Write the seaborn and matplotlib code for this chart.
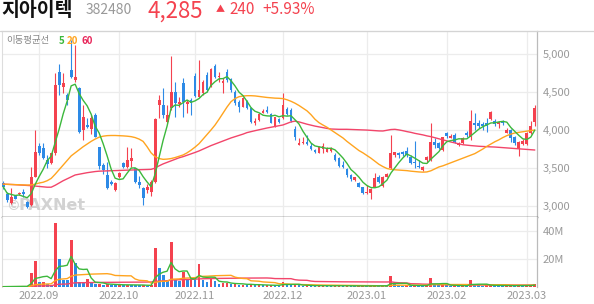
import numpy as np
import pandas as pd
import matplotlib
matplotlib.use("Agg")
import matplotlib.pyplot as plt
import seaborn as sns
from matplotlib.lines import Line2D

# ---------------- data ----------------
holidays = ["2022-09-09", "2022-09-12", "2022-10-03", "2022-10-10",
            "2022-12-30", "2023-01-23", "2023-01-24", "2023-03-01"]

opens = [3310, 3161, 3048, 3135, 3161, 3192, 3061, 3017, 3388, 3790,
         3759, 3606, 3563, 3694, 4763, 4566, 4457, 4784, 4653, 4544,
         3999, 4064, 4008, 4195, 3772, 3541, 3410, 3323, 3214, 3388,
         3571, 3510, 3598, 3497, 3323, 3244, 3214, 3192, 3323, 4326,
         4326, 4108, 4283, 4501, 4339, 4610, 4339, 4392, 4706, 4435,
         4479, 4719, 4566, 4837, 4688, 4619, 4763, 4662, 4501, 4370,
         4304, 4379, 4283, 4086, 4130, 4226, 4261, 4208, 4051, 4143,
         4152, 4274, 4261, 4008, 3807, 3824, 3846, 3790, 3737, 3702,
         3746, 3715, 3728, 3672, 3628, 3536, 3484, 3410, 3344, 3309,
         3248, 3170, 3178, 3257, 3379, 3266, 3388, 3497, 3672, 3702,
         3706, 3728, 3641, 3584, 3528, 3475, 3600, 3606, 3846, 3824,
         3737, 3964, 3898, 3933, 3798, 3824, 3964, 3911, 4094, 4094,
         4073, 4094, 4138, 4121, 4077, 4107, 3964, 4000, 3911, 3745,
         3815, 3815, 3960, 4110]
highs = [3331, 3192, 3236, 3148, 3192, 3222, 3070, 3519, 3999, 3824,
         3824, 3672, 3702, 4741, 4863, 4741, 4479, 5180, 5111, 4566,
         4326, 4152, 4195, 4217, 3781, 3563, 3585, 3345, 3323, 3454,
         3585, 3781, 3759, 3506, 3397, 3257, 3292, 3345, 4152, 4457,
         4544, 4326, 4968, 4632, 4435, 4675, 4392, 4413, 4741, 4915,
         4653, 4763, 4806, 4863, 4763, 4675, 4793, 4675, 4523, 4392,
         4426, 4392, 4304, 4152, 4217, 4274, 4313, 4217, 4174, 4152,
         4479, 4304, 4283, 4051, 3890, 3912, 3933, 3824, 3746, 3790,
         3824, 3770, 3780, 3702, 3650, 3598, 3497, 3419, 3388, 3323,
         3257, 3279, 3235, 3432, 3410, 3397, 3432, 3933, 3715, 3715,
         3720, 3781, 3672, 3859, 3606, 3530, 3660, 4086, 3889, 3846,
         3911, 3977, 3946, 3955, 3840, 3902, 3990, 4260, 4217, 4129,
         4107, 4151, 4251, 4138, 4121, 4125, 4020, 4007, 3920, 3859,
         3876, 3977, 4120, 4320]
lows = [3222, 3052, 3026, 3091, 3148, 3126, 2982, 3009, 3379, 3672,
        3615, 3497, 3554, 3672, 4457, 4479, 4326, 4675, 4632, 3964,
        3868, 4021, 3947, 3903, 3484, 3423, 3222, 3279, 3205, 3366,
        3506, 3497, 3519, 3310, 3236, 3017, 3170, 3135, 3301, 4152,
        4152, 4086, 4261, 4174, 4304, 4174, 4217, 4195, 4435, 4426,
        4457, 4501, 4557, 4675, 4632, 4488, 4632, 4501, 4326, 4239,
        4296, 4269, 4095, 4064, 4121, 4217, 4226, 4086, 4043, 4086,
        4139, 4195, 4108, 3868, 3798, 3815, 3807, 3737, 3702, 3694,
        3694, 3705, 3715, 3598, 3510, 3502, 3388, 3336, 3336, 3248,
        3161, 3161, 3091, 3248, 3301, 3257, 3380, 3484, 3650, 3630,
        3665, 3650, 3554, 3497, 3497, 3465, 3580, 3597, 3759, 3745,
        3728, 3889, 3889, 3833, 3790, 3815, 3911, 3868, 4000, 4020,
        3998, 3977, 4129, 4051, 4020, 4060, 3955, 3846, 3802, 3658,
        3802, 3802, 3950, 4050]
closes = [3257, 3083, 3126, 3100, 3179, 3161, 2995, 3388, 3715, 3694,
          3628, 3554, 3694, 4588, 4588, 4619, 4392, 4697, 4697, 3977,
          4174, 4034, 4152, 3912, 3528, 3475, 3236, 3292, 3310, 3440,
          3519, 3606, 3628, 3323, 3279, 3105, 3257, 3323, 4143, 4392,
          4195, 4195, 4501, 4348, 4370, 4370, 4370, 4348, 4444, 4523,
          4632, 4523, 4793, 4688, 4710, 4645, 4653, 4523, 4348, 4304,
          4413, 4283, 4108, 4112, 4208, 4252, 4239, 4095, 4165, 4108,
          4326, 4208, 4121, 3903, 3833, 3846, 3815, 3746, 3711, 3781,
          3790, 3759, 3759, 3606, 3528, 3510, 3410, 3353, 3379, 3257,
          3178, 3192, 3222, 3366, 3323, 3379, 3419, 3693, 3706, 3672,
          3680, 3672, 3563, 3562, 3510, 3519, 3650, 3846, 3802, 3759,
          3902, 3920, 3920, 3846, 3833, 3889, 3929, 4116, 4064, 4051,
          4051, 4051, 4238, 4077, 4107, 4086, 4000, 3889, 3824, 3846,
          3859, 3955, 4045, 4285]

ma20_line = [3290, 3288, 3285, 3283, 3282, 3280, 3278, 3280, 3290, 3305,
             3315, 3335, 3365, 3420, 3480, 3540, 3600, 3660, 3700, 3740,
             3780, 3815, 3850, 3880, 3905, 3918, 3925, 3927, 3927, 3925,
             3922, 3918, 3912, 3900, 3880, 3850, 3780, 3700, 3650, 3625,
             3615, 3618, 3625, 3638, 3655, 3672, 3700, 3735, 3775, 3820,
             3880, 3940, 4000, 4064, 4140, 4220, 4300, 4370, 4410, 4435,
             4444, 4448, 4448, 4445, 4438, 4430, 4425, 4420, 4416, 4414,
             4410, 4395, 4375, 4350, 4320, 4285, 4250, 4200, 4140, 4095,
             4064, 4035, 4000, 3965, 3930, 3895, 3850, 3810, 3770, 3730,
             3700, 3665, 3630, 3590, 3550, 3520, 3495, 3484, 3478, 3474,
             3470, 3467, 3460, 3455, 3450, 3447, 3450, 3465, 3490, 3515,
             3530, 3550, 3570, 3590, 3610, 3630, 3650, 3670, 3690, 3720,
             3750, 3785, 3815, 3845, 3870, 3900, 3925, 3945, 3960, 3968,
             3975, 3985, 3992, 3998]
ma60_line = [3290, 3288, 3285, 3283, 3280, 3278, 3275, 3270, 3265, 3260,
             3255, 3250, 3250, 3275, 3305, 3335, 3360, 3385, 3410, 3420,
             3430, 3440, 3448, 3455, 3460, 3462, 3465, 3467, 3469, 3471,
             3473, 3475, 3477, 3478, 3479, 3480, 3482, 3484, 3500, 3530,
             3555, 3575, 3595, 3615, 3635, 3650, 3668, 3685, 3705, 3725,
             3748, 3770, 3795, 3815, 3835, 3855, 3875, 3895, 3912, 3930,
             3945, 3965, 3978, 3990, 4002, 4014, 4025, 4035, 4045, 4055,
             4065, 4085, 4105, 4115, 4105, 4090, 4075, 4062, 4050, 4040,
             4030, 4020, 4012, 4010, 4008, 4008, 4008, 4006, 4004, 4002,
             4000, 3998, 3994, 3990, 3987, 3986, 3995, 4005, 4008, 4000,
             3990, 3978, 3968, 3955, 3945, 3935, 3922, 3912, 3898, 3885,
             3870, 3855, 3842, 3830, 3818, 3806, 3800, 3795, 3790, 3786,
             3783, 3780, 3778, 3776, 3772, 3768, 3764, 3760, 3756, 3752,
             3748, 3744, 3740, 3737]

volume_m = [0.3, 0.25, 0.3, 0.2, 0.2, 0.3, 0.25, 10.1, 18.6, 3.6,
            3.7, 1.8, 1.5, 46.3, 20.0, 4.9, 4.7, 33.7, 17.4, 3.6,
            2.9, 5.6, 2.4, 2.0, 2.2, 1.5, 1.8, 1.6, 1.2, 1.4,
            1.0, 1.6, 1.3, 1.1, 0.9, 1.2, 0.8, 1.0, 28.2, 13.8,
            8.5, 4.5, 32.5, 5.0, 3.8, 10.9, 4.5, 4.7, 4.5, 16.2,
            4.9, 3.5, 5.5, 4.0, 2.0, 2.5, 3.0, 1.8, 2.4, 1.5,
            1.6, 1.4, 1.8, 1.2, 1.3, 0.9, 1.0, 1.2, 1.1, 0.8,
            3.6, 1.4, 1.3, 1.5, 1.0, 0.8, 0.9, 0.7, 0.6, 0.8,
            0.9, 0.6, 0.5, 0.7, 0.8, 0.6, 0.7, 0.6, 0.5, 0.6,
            0.7, 0.5, 0.6, 0.9, 0.6, 0.7, 0.5, 8.0, 1.8, 1.0,
            0.8, 0.9, 0.8, 1.2, 0.7, 0.6, 1.0, 6.5, 1.5, 1.0,
            1.5, 1.0, 0.7, 0.8, 0.6, 0.9, 0.7, 4.9, 1.6, 1.0,
            0.8, 1.0, 1.4, 0.8, 0.7, 0.6, 0.8, 0.9, 0.8, 1.0,
            0.6, 0.9, 1.1, 2.0]

price_ticks = [3000, 3500, 4000, 4500, 5000]
volume_ticks = [20, 40]

# ---------------- derived ----------------
dates = pd.bdate_range("2022-08-19", "2023-03-06")
dates = dates[~dates.isin(pd.to_datetime(holidays))]
n = len(closes)
x = np.arange(n)
o = np.array(opens, float)
h = np.array(highs, float)
l = np.array(lows, float)
c = np.array(closes, float)
v = np.array(volume_m, float)

RED = "#f4424f"
BLUE = "#2d8ae6"
GREEN = "#3cb83c"
ORANGE = "#ffa41f"
PINK = "#f2456a"

ma5 = pd.Series(c).rolling(5, min_periods=1).mean().values
vma5 = pd.Series(v).rolling(5, min_periods=1).sum().values / 5
vma20 = pd.Series(v).rolling(20, min_periods=1).sum().values / 20
vma60 = pd.Series(v).rolling(60, min_periods=1).sum().values / 60

cand_col = np.where(c >= o, RED, BLUE)
vol_col = [RED] + [RED if v[i] >= v[i - 1] else BLUE for i in range(1, n)]

ds = pd.Series(dates)
month_first = ds.groupby([ds.dt.year, ds.dt.month]).head(1).index.values
month_first = [i for i in month_first if dates[i] >= pd.Timestamp("2022-09-01")]
month_lbl = [dates[i].strftime("%Y.%m") for i in month_first]

# ---------------- style ----------------
sns.set_style("white")
plt.rcParams["font.family"] = ["Noto Sans CJK KR", "DejaVu Sans"]

W, H = 594, 304
fig = plt.figure(figsize=(W / 100, H / 100), dpi=100)
L, R = 2, 537
ax = fig.add_axes([L / W, 1 - 217 / H, (R - L) / W, (217 - 31) / H])
axv = fig.add_axes([L / W, 1 - 287 / H, (R - L) / W, (287 - 217) / H], sharex=ax)

# candles
ax.vlines(x, l, h, colors=cand_col, linewidth=0.8, zorder=2)
body = np.maximum(np.abs(c - o), 12)
ax.bar(x, body, bottom=np.minimum(o, c), width=0.72, color=cand_col,
       linewidth=0, zorder=3)

sns.lineplot(x=x, y=ma60_line, ax=ax, color=PINK, linewidth=1.0, zorder=4)
sns.lineplot(x=x, y=ma20_line, ax=ax, color=ORANGE, linewidth=1.0, zorder=4)
sns.lineplot(x=x, y=ma5, ax=ax, color=GREEN, linewidth=1.0, zorder=5)

ax.set_xlim(-0.3, n - 0.45)
ax.set_ylim(2860, 5295)
ax.set_yticks(price_ticks)
ax.set_yticklabels([f"{t:,}" for t in price_ticks])
ax.set_xticks(month_first)
ax.grid(True, color="#ececec", linewidth=0.9, zorder=0)
ax.set_axisbelow(True)
ax.yaxis.tick_right()
ax.tick_params(axis="y", length=0, pad=4, labelsize=8, labelcolor="#999999")
ax.tick_params(axis="x", length=0, labelbottom=False)
ax.set_xlabel("")
ax.set_ylabel("")
for s in ["top", "left"]:
    ax.spines[s].set_color("#dddddd")
    ax.spines[s].set_linewidth(0.8)
ax.spines["right"].set_color("#bbbbbb")
ax.spines["right"].set_linewidth(0.9)
ax.spines["bottom"].set_color("#333333")
ax.spines["bottom"].set_linewidth(1.0)

# watermark
ax.text(4 / (R - L), 0.06, "©", transform=ax.transAxes, fontsize=10,
        fontweight="bold", color="#d2d2d2", va="center", ha="left",
        family=["DejaVu Sans"], zorder=1)
ax.text(17 / (R - L), 0.06, "PAXNet", transform=ax.transAxes, fontsize=11.5,
        fontweight="bold", color="#d2d2d2", va="center", ha="left",
        family=["DejaVu Sans"], zorder=1)

# volume
axv.bar(x, v, width=0.72, color=vol_col, linewidth=0, zorder=2)
sns.lineplot(x=x, y=vma60, ax=axv, color=PINK, linewidth=1.0, zorder=3)
sns.lineplot(x=x, y=vma20, ax=axv, color=ORANGE, linewidth=1.0, zorder=3)
sns.lineplot(x=x, y=vma5, ax=axv, color=GREEN, linewidth=1.0, zorder=4)
axv.set_ylim(-0.2, 50.3)
axv.set_yticks(volume_ticks)
axv.set_yticklabels([f"{t}M" for t in volume_ticks])
axv.set_xticks(month_first)
axv.set_xticklabels(month_lbl)
axv.grid(True, color="#ececec", linewidth=0.9, zorder=0)
axv.set_axisbelow(True)
axv.yaxis.tick_right()
axv.tick_params(axis="y", length=0, pad=4, labelsize=8, labelcolor="#999999")
axv.tick_params(axis="x", length=0, pad=3, labelsize=8, labelcolor="#999999")
axv.set_xlabel("")
axv.set_ylabel("")
axv.spines["top"].set_visible(False)
axv.spines["bottom"].set_visible(False)
axv.spines["left"].set_color("#dddddd")
axv.spines["left"].set_linewidth(0.8)
axv.spines["right"].set_color("#bbbbbb")
axv.spines["right"].set_linewidth(0.9)

# header line
fig.add_artist(Line2D([0, 1], [1 - 31 / H, 1 - 31 / H], color="#d4d4d4",
                      linewidth=0.9, transform=fig.transFigure))

# title texts
ty = 1 - 11 / H
fig.text(1 / W, ty, "지아이텍", fontsize=14, fontweight="bold", color="#111111",
         va="center", ha="left")
fig.text(86 / W, ty + 0.004, "382480", fontsize=10, color="#999999",
         va="center", ha="left")
fig.text(147 / W, ty, "4,285", fontsize=16, color=RED, va="center", ha="left")
fig.text(216 / W, ty + 0.004, "▲", fontsize=6.5, color=RED, va="center", ha="left")
fig.text(229 / W, ty + 0.004, "240", fontsize=11, color=RED, va="center", ha="left")
fig.text(262 / W, ty + 0.004, "+5.93%", fontsize=11, color=RED, va="center", ha="left")

# MA legend
ly = 1 - 41 / H
fig.text(6 / W, ly, "이동평균선", fontsize=6.8, color="#888888", va="center", ha="left")
fig.text(59 / W, ly, "5", fontsize=7, color=GREEN, va="center", ha="left", fontweight="bold")
fig.text(67 / W, ly, "20", fontsize=7, color=ORANGE, va="center", ha="left", fontweight="bold")
fig.text(82 / W, ly, "60", fontsize=7, color="#e8265a", va="center", ha="left", fontweight="bold")

fig.savefig("out.png", dpi=100)
